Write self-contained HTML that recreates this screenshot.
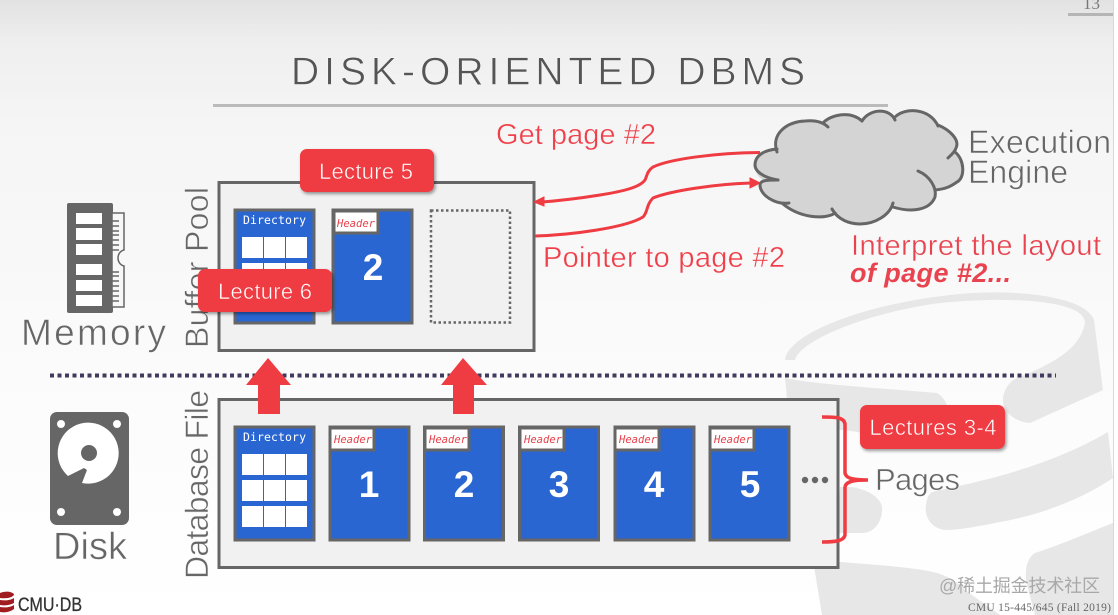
<!DOCTYPE html>
<html><head><meta charset="utf-8">
<style>html,body{margin:0;padding:0;background:#fff}svg{display:block}
text{font-family:"Liberation Sans","Noto Sans CJK SC",sans-serif}
.m{font-family:"DejaVu Sans Mono","Liberation Mono",monospace}
.t{stroke:#f6f6f6;stroke-width:.6}
.r{stroke:#f6f6f6;stroke-width:.4}
.w{stroke:#ef3b42;stroke-width:.5}
</style></head><body>
<svg width="1118" height="615" viewBox="0 0 1118 615" xmlns="http://www.w3.org/2000/svg">
<defs>
<linearGradient id="bg" x1="0" y1="0" x2="0" y2="1"><stop offset="0" stop-color="#e2e2e2"/><stop offset=".07" stop-color="#efefef"/><stop offset=".2" stop-color="#f5f5f5"/><stop offset=".6" stop-color="#fbfbfb"/><stop offset="1" stop-color="#fff"/></linearGradient>
<filter id="sh" x="-10%" y="-10%" width="125%" height="135%"><feDropShadow dx="1.500" dy="2" stdDeviation="1.500" flood-color="#000" flood-opacity=".4"/></filter>
</defs>
<rect width="1118" height="615" fill="url(#bg)"/>
<!-- watermark -->
<g fill="#e7e7e7">
<path d="M785 360C787 335 860 305 950 295C1010 288 1085 295 1094 320L1103 390L1030 423C1015 422 1003 412 1003 400C1003 392 1008 382 1017 378C1050 365 1080 350 1085 323C1085 300 1010 296 940 303C870 312 800 340 795 360Z"/>
<path d="M785 378C820 385 880 388 937 393C942 396 945 400 947 405L945 440C900 445 860 430 840 430H790Z"/>
<path d="M840 487C860 485 880 495 882 507C883 520 875 533 862 533L838 533Z"/>
<path d="M932 492C960 485 1040 472 1108 432L1113 478C1080 500 1040 515 1000 522C980 526 960 530 945 530C930 528 924 515 926 505C927 498 928 495 932 492Z"/>
<path d="M813 560L840 562C880 565 920 568 937 573C950 577 957 582 965 590L1000 615H822Z"/>
<path d="M1113 523C1090 532 1060 545 1035 553C1027 558 1024 570 1027 585L1035 615H1113Z"/>
</g>
<rect x="1113" y="0" width="5" height="615" fill="#fff"/>
<rect x="1113" y="0" width="1" height="615" fill="#d8d8d8"/>
<!-- page number -->
<text x="1083" y="9" style="font-family:'Liberation Serif',serif" font-size="17" fill="#777">13</text>
<rect x="1068" y="13" width="45" height="3" fill="#b5b5b5"/>
<!-- title -->
<text class="t" x="291" y="84.500" font-size="39" fill="#555" textLength="514" lengthAdjust="spacing">DISK-ORIENTED DBMS</text>
<rect x="213" y="104" width="675" height="3" fill="#bbb"/>

<!-- divider -->
<line x1="50" y1="375.500" x2="1056" y2="375.500" stroke="#3f3a5e" stroke-width="4" stroke-dasharray="4 3.500"/>

<!-- buffer pool -->
<rect x="219" y="182.500" width="315" height="168" fill="#f1f1f1" stroke="#666" stroke-width="3"/>
<rect x="235" y="210" width="79" height="113" fill="#2966d2" stroke="#666" stroke-width="3"/>
<text class="m" x="243" y="224" font-size="11.500" fill="#fff" textLength="63">Directory</text>
<g fill="#fff">
<rect x="242" y="237" width="21" height="21"/><rect x="264" y="237" width="21" height="21"/><rect x="286" y="237" width="21" height="21"/>
<rect x="242" y="263" width="21" height="21"/><rect x="264" y="263" width="21" height="21"/><rect x="286" y="263" width="21" height="21"/>
</g>
<rect x="333" y="210" width="79" height="113" fill="#2966d2" stroke="#666" stroke-width="3"/>
<rect x="334" y="211" width="44" height="22" fill="#fff" stroke="#666" stroke-width="3"/>
<text class="m" x="337" y="227" font-size="10.500" font-style="italic" fill="#e8404a" textLength="38">Header</text>
<text x="373" y="280" font-size="37" font-weight="700" fill="#fff" text-anchor="middle">2</text>
<rect x="431" y="210.500" width="79" height="112" fill="none" stroke="#666" stroke-width="2.500" stroke-dasharray="2.500 2.500"/>

<!-- database file -->
<rect x="219" y="399.500" width="619" height="168" fill="#f1f1f1" stroke="#666" stroke-width="3"/>
<rect x="235" y="427" width="79" height="113" fill="#2966d2" stroke="#666" stroke-width="3"/>
<text class="m" x="243" y="441" font-size="11.500" fill="#fff" textLength="63">Directory</text>
<g fill="#fff">
<rect x="242" y="454" width="21" height="21"/><rect x="264" y="454" width="21" height="21"/><rect x="286" y="454" width="21" height="21"/>
<rect x="242" y="480" width="21" height="21"/><rect x="264" y="480" width="21" height="21"/><rect x="286" y="480" width="21" height="21"/>
<rect x="242" y="506" width="21" height="21"/><rect x="264" y="506" width="21" height="21"/><rect x="286" y="506" width="21" height="21"/>
</g>
<g>
<rect x="330" y="427" width="79" height="113" fill="#2966d2" stroke="#666" stroke-width="3"/>
<rect x="330" y="428" width="44" height="22" fill="#fff" stroke="#666" stroke-width="3"/>
<text class="m" x="334" y="443" font-size="10.500" font-style="italic" fill="#e8404a" textLength="38">Header</text>
<text x="369" y="497" font-size="37" font-weight="700" fill="#fff" text-anchor="middle">1</text>
<rect x="424.500" y="427" width="79" height="113" fill="#2966d2" stroke="#666" stroke-width="3"/>
<rect x="425" y="428" width="44" height="22" fill="#fff" stroke="#666" stroke-width="3"/>
<text class="m" x="429" y="443" font-size="10.500" font-style="italic" fill="#e8404a" textLength="38">Header</text>
<text x="464" y="497" font-size="37" font-weight="700" fill="#fff" text-anchor="middle">2</text>
<rect x="519.500" y="427" width="79" height="113" fill="#2966d2" stroke="#666" stroke-width="3"/>
<rect x="520" y="428" width="44" height="22" fill="#fff" stroke="#666" stroke-width="3"/>
<text class="m" x="524" y="443" font-size="10.500" font-style="italic" fill="#e8404a" textLength="38">Header</text>
<text x="559" y="497" font-size="37" font-weight="700" fill="#fff" text-anchor="middle">3</text>
<rect x="615" y="427" width="79" height="113" fill="#2966d2" stroke="#666" stroke-width="3"/>
<rect x="615" y="428" width="44" height="22" fill="#fff" stroke="#666" stroke-width="3"/>
<text class="m" x="619" y="443" font-size="10.500" font-style="italic" fill="#e8404a" textLength="38">Header</text>
<text x="654" y="497" font-size="37" font-weight="700" fill="#fff" text-anchor="middle">4</text>
<rect x="710" y="427" width="79" height="113" fill="#2966d2" stroke="#666" stroke-width="3"/>
<rect x="710" y="428" width="44" height="22" fill="#fff" stroke="#666" stroke-width="3"/>
<text class="m" x="714" y="443" font-size="10.500" font-style="italic" fill="#e8404a" textLength="38">Header</text>
<text x="750" y="497" font-size="37" font-weight="700" fill="#fff" text-anchor="middle">5</text>
</g>
<g fill="#666"><circle cx="805" cy="480" r="3.200"/><circle cx="815" cy="480" r="3.200"/><circle cx="825" cy="480" r="3.200"/></g>

<!-- up arrows -->
<path d="M258 414V385H246L268 358L291 385H280V414Z" fill="#ef3b42"/>
<path d="M453 414V385H441L463 358L487 385H474V414Z" fill="#ef3b42"/>

<!-- side labels -->
<text class="t" transform="translate(208,348) rotate(-90)" font-size="32" fill="#666" textLength="161">Buffer Pool</text>
<text class="t" transform="translate(208,579) rotate(-90)" font-size="32" fill="#666" textLength="189">Database File</text>

<!-- badges -->
<rect x="300" y="149" width="134" height="43" rx="7" fill="#ef3b42" filter="url(#sh)"/>
<text class="w" x="366" y="179" font-size="22" fill="#fff" text-anchor="middle" textLength="94">Lecture 5</text>
<rect x="198" y="269" width="134" height="43" rx="7" fill="#ef3b42" filter="url(#sh)"/>
<text class="w" x="265" y="299" font-size="22" fill="#fff" text-anchor="middle" textLength="94">Lecture 6</text>
<rect x="860" y="405" width="145" height="44" rx="7" fill="#ef3b42" filter="url(#sh)"/>
<text class="w" x="933" y="435" font-size="22" fill="#fff" text-anchor="middle" textLength="127">Lectures 3-4</text>

<!-- connectors -->
<path d="M760 152.500C715 153 670 159 653 167C647 171 647 176 645 180C640 187 625 191 600 195C575 199 555 201 542 202" fill="none" stroke="#ef3b42" stroke-width="3"/>
<path d="M544 197L534 202L544 206Z" fill="#ef3b42" stroke="#ef3b42"/>
<path d="M535 236C570 235 625 228 643 217C648 212 646 205 653 198C670 191 715 184 751 183" fill="none" stroke="#ef3b42" stroke-width="3"/>
<path d="M750 178L760 183L750 188Z" fill="#ef3b42" stroke="#ef3b42"/>

<!-- cloud -->
<path d="M777 149C771 135 785 122 805 121C815 120 820 121 824 123C830 115 850 110 862 121C870 108 890 108 895 118C905 107 930 108 938 125C950 130 960 140 956 152C965 160 965 178 957 182C950 187 945 189 935 190C935 197 935 197 935 197C930 210 912 213 893 205C890 215 875 224 860 224C850 224 838 220 833 211C825 220 800 218 786 204C775 205 760 195 760 185C760 182 761 181 763 180C757 176 755 172 755 165C755 155 765 150 777 149Z" fill="#d4d4d4"/>
<g fill="none" stroke="#666" stroke-width="3" stroke-linecap="round">
<path d="M777 152C771 135 785 122 805 121C815 120 823 122 828 127"/>
<path d="M823 123C830 115 850 110 862 121"/>
<path d="M862 121C870 108 890 108 895 120"/>
<path d="M895 117C905 107 930 108 938 126"/>
<path d="M938 125C950 130 960 140 956 148C955 152 951 155 948 158"/>
<path d="M955 152C965 160 965 178 957 182C950 187 945 189 935 190"/>
<path d="M918 171C930 176 937 188 935 197C930 210 912 213 893 207"/>
<path d="M893 203C890 215 875 224 860 224C850 224 838 220 832 209"/>
<path d="M835 213C825 220 800 218 783 204"/>
<path d="M789 203C775 205 760 195 760 185C760 180 768 180 778 180"/>
<path d="M778 180C765 178 755 172 755 165C755 155 765 150 777 149"/>
</g>

<!-- red text -->
<text class="r" x="496" y="144" font-size="29" fill="#ef3f4a" textLength="160">Get page #2</text>
<text class="r" x="543" y="267" font-size="29" fill="#ef3f4a" textLength="242">Pointer to page #2</text>
<text class="r" x="851" y="255" font-size="29" fill="#e8434f" textLength="250">Interpret the layout</text>
<text x="850" y="282" font-size="27" font-weight="700" font-style="italic" fill="#e8434f" textLength="161">of page #2...</text>

<!-- execution engine -->
<text class="t" x="968" y="153" font-size="32" fill="#666" textLength="143">Execution</text>
<text class="t" x="968" y="183" font-size="32" fill="#666" textLength="100">Engine</text>

<!-- brace -->
<path d="M822 417C835 417 844 417 845 424V473C846 479 855 480 868 480M845 487C846 481 855 480 868 480M845 487V535C844 541 835 542 822 542" fill="none" stroke="#ef3b42" stroke-width="3.500"/>
<text class="t" x="875" y="490" font-size="31" fill="#666" textLength="85">Pages</text>

<!-- memory -->
<rect x="67" y="203" width="46" height="110" rx="2" fill="#666"/>
<g fill="#fff"><rect x="76" y="213" width="26" height="11"/><rect x="76" y="228" width="26" height="12"/><rect x="76" y="244" width="26" height="11"/><rect x="76" y="264" width="26" height="11"/><rect x="76" y="280" width="26" height="11"/><rect x="76" y="295" width="26" height="11"/></g>
<path d="M112 213H124V250C116 252 116 264 124 266V307H112Z" fill="#f7f7f7" stroke="#666" stroke-width="1.500"/>
<g stroke="#666" stroke-width="1.500"><path d="M112 221H119M112 226H119M112 231H119M112 235H119M112 240H119M112 245H119M112 250H119M112 272H119M112 276H119M112 281H119M112 286H119M112 291H119M112 296H119M112 301H119"/></g>
<text class="t" x="21" y="345" font-size="37" fill="#666" textLength="145">Memory</text>

<!-- disk -->
<rect x="50" y="412" width="79" height="113" rx="7" fill="#666"/>
<g fill="#fff"><circle cx="61" cy="424" r="4"/><circle cx="117" cy="424" r="4"/><circle cx="61" cy="512" r="4"/><circle cx="117" cy="512" r="4"/></g>
<path d="M68 476A30.500 30.500 0 1 1 82 483L87 470L84 468Z" fill="#fff"/>
<circle cx="89" cy="453" r="8" fill="#666"/>
<text class="t" x="53" y="559" font-size="38" fill="#666" textLength="74">Disk</text>

<!-- logo -->
<g fill="#a01c20"><path d="M0 593C5 591 11 591 14 594C14 597 8 599 0 598Z"/><path d="M0 600C6 601 11 600 14 598V603C10 605 5 606 0 605Z"/><path d="M0 607C6 608 11 607 14 605V609C10 612 5 613 0 612Z"/></g>
<text x="18" y="611" font-size="19" fill="#333" stroke="#333" stroke-width=".3" textLength="64" lengthAdjust="spacingAndGlyphs">CMU·DB</text>

<!-- footer -->
<text x="939" y="592" font-size="18" fill="#a8a8a8" textLength="161">@稀土掘金技术社区</text>
<text x="968" y="611" font-size="11.500" style="font-family:'Liberation Serif',serif" fill="#666" textLength="143">CMU 15-445/645 (Fall 2019)</text>
</svg>
</body></html>
